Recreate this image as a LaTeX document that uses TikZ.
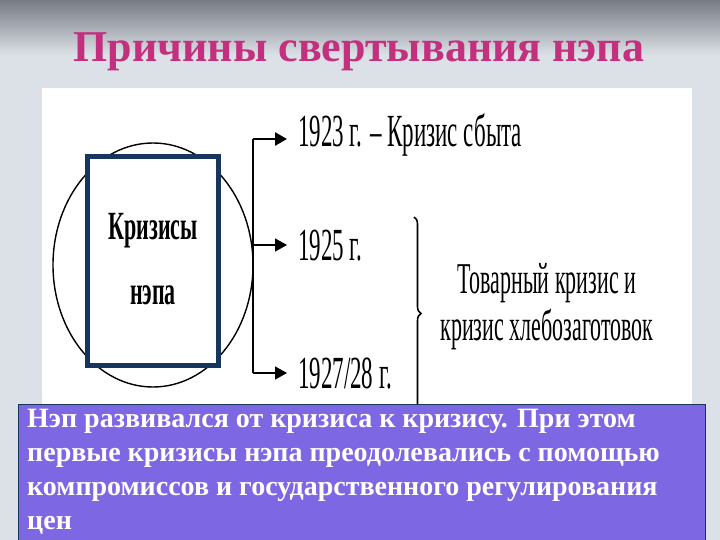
\documentclass[tikz,border=0pt]{standalone}
\usepackage{fontspec}
\setmainfont{LiberationSerif}[Extension=.ttf, UprightFont=*-Regular, BoldFont=*-Bold]
\usetikzlibrary{positioning, arrows.meta, decorations.pathreplacing}

\definecolor{bgdark}{HTML}{767B84}
\definecolor{bglight}{HTML}{DCE1E7}
\definecolor{titlepink}{HTML}{C2307E}
\definecolor{boxnavy}{HTML}{17365D}
\definecolor{notepurple}{HTML}{7D67E3}

\begin{document}
\begin{tikzpicture}[x=1pt, y=-1pt,
	year/.style={anchor=base west, inner sep=0, font=\fontsize{46}{46}\selectfont, xscale=0.5},
	crisis/.style={anchor=base, inner sep=0, font=\bfseries\fontsize{40}{40}\selectfont, xscale=0.55},
	goods/.style={anchor=base, inner sep=0, font=\fontsize{44}{44}\selectfont, xscale=0.5},
	fork/.style={line width=1.4pt, -{Triangle[length=12pt, width=13pt]}, shorten >=11pt}]
			\useasboundingbox (0,0) rectangle (720,540);
			
			% background
			\fill[top color=bgdark, bottom color=bglight] (0,0) rectangle (720,55);
			\fill[bglight] (0,55) rectangle (720,540);
			
			\node[anchor=base, text=titlepink, font=\bfseries\fontsize{44}{44}\selectfont] (title) at (359,62) {Причины свертывания нэпа};
			
			\fill[white] (42,88) rectangle (692,404);
			
			\draw[line width=1.4pt] (153,265) ellipse [x radius=100, y radius=122];
			\node[draw=boxnavy, fill=white, line width=5pt, minimum width=131, minimum height=209] (crisisbox) at (153,261) {};
			\node[crisis] (crisisA) at (153,240) {Кризисы};
			\node[crisis] (crisisB) at (153,304) {нэпа};
			
			\node[year] (y1923) at (298,147) {1923 г. – Кризис сбыта};
			\node[year] (y1925) at (298,260) {1925 г.};
			\node[year] (y1927) at (298,388) {1927/28 г.};
			
			\coordinate (forktop) at (253,139);
			\coordinate (forkmid) at (253,245);
			\coordinate (forkbot) at (253,373);
			
			\draw[line width=1.2pt] (forktop) -- (forkbot);
			\draw[fork, line width=2.6pt] (forktop) -- (forktop -| y1923.west);
			\draw[fork] (forkmid) -- (forkmid -| y1925.west);
			\draw[fork] (forkbot) -- (forkbot -| y1927.west);
			
			\coordinate (bracetop) at (414,217);
			\coordinate (bracebot) at (414,410);
			\draw[decorate, decoration={brace, amplitude=7pt}, line width=1.6pt] (bracetop) -- (bracebot);
			
			\node[goods] (goodsA) at (547,293) {Товарный кризис и};
			\node[goods] (goodsB) at (547,340) {кризис хлебозаготовок};
			
			% note
			\draw[fill=notepurple, draw=boxnavy, line width=1pt] (18,404) rectangle (705,545);
			\node[anchor=north west, align=left, text=white, inner sep=0, font=\bfseries\fontsize{28}{34}\selectfont] (note) at (27,409) {Нэп развивался от кризиса к кризису. При этом\\первые кризисы нэпа преодолевались с помощью\\компромиссов и государственного регулирования\\цен};
		\end{tikzpicture}
\end{document}
